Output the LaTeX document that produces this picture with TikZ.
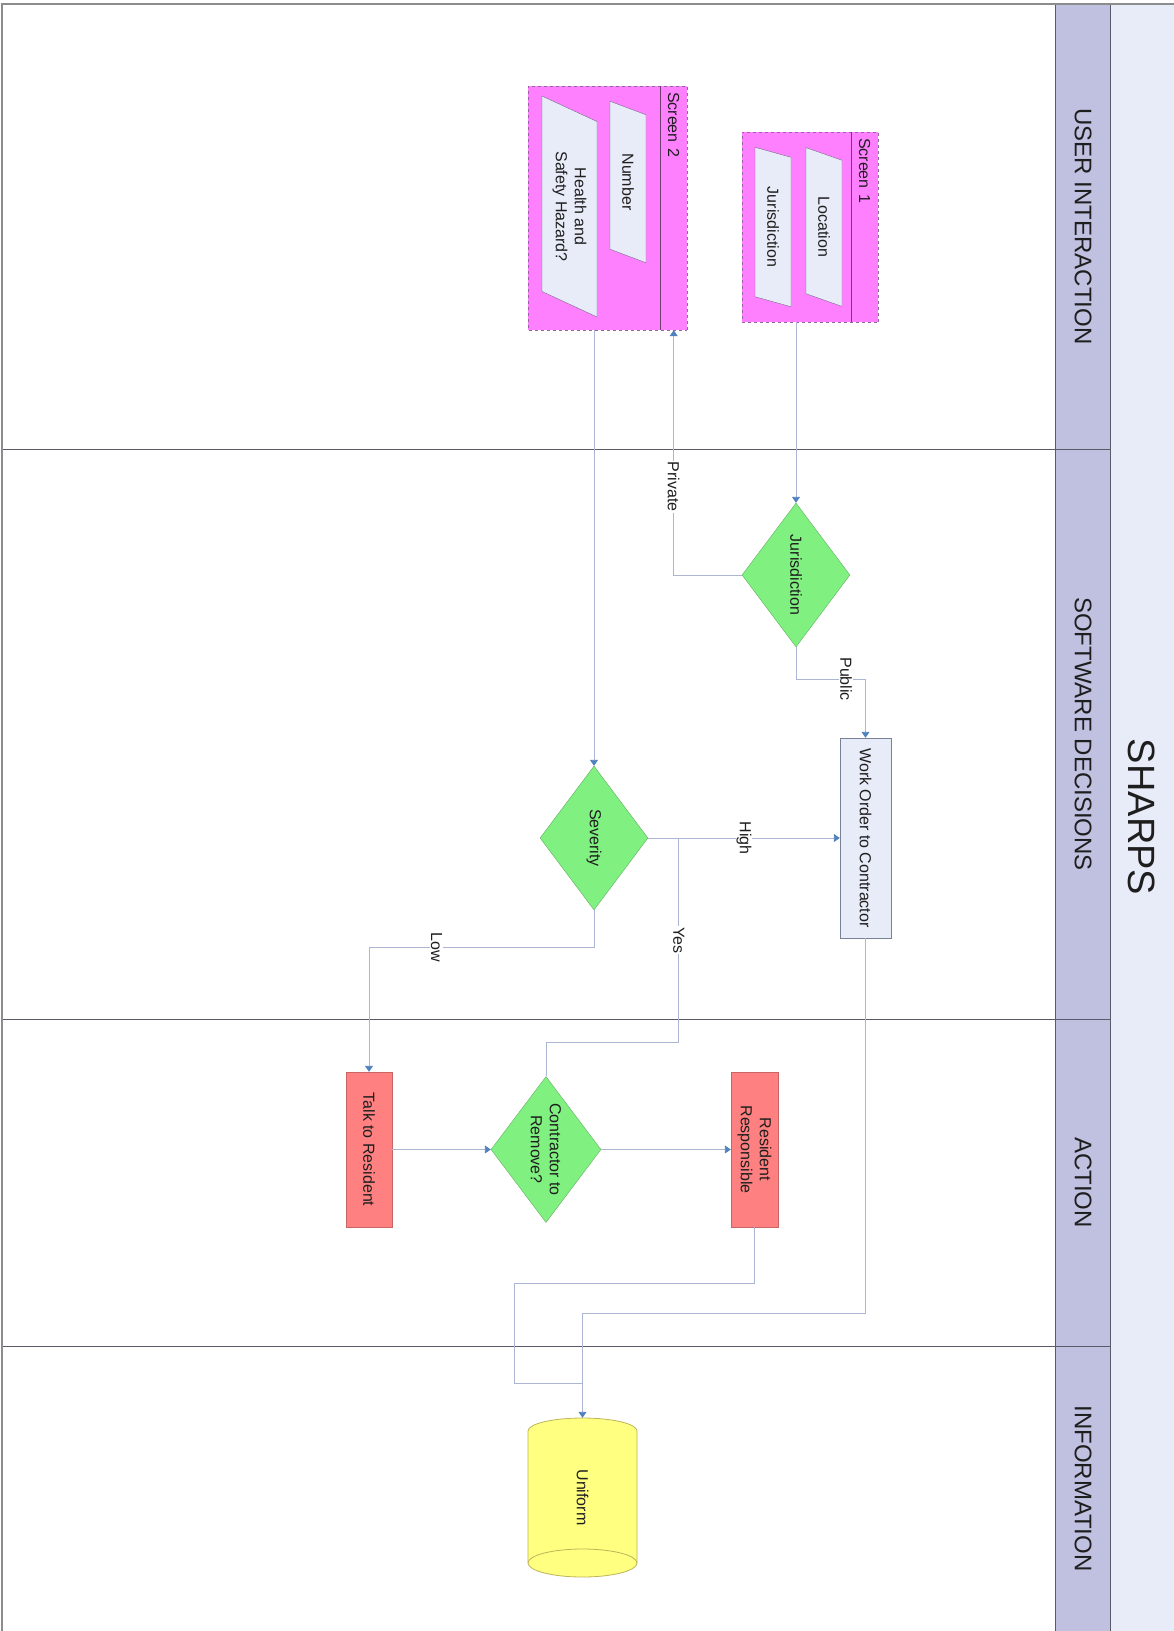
\documentclass[tikz,border=0pt]{standalone}
\usepackage{fontspec}
\setmainfont{Liberation Sans}
\usetikzlibrary{shapes.geometric, arrows.meta, positioning, calc}

\definecolor{lanefill}{RGB}{192,192,224}
\definecolor{titlefill}{RGB}{232,236,248}
\definecolor{laneedge}{RGB}{90,90,105}
\definecolor{frameedge}{RGB}{140,140,140}
\definecolor{screenfill}{RGB}{255,128,255}
\definecolor{screenedge}{RGB}{150,100,160}
\definecolor{headedge}{RGB}{110,60,110}
\definecolor{inputfill}{RGB}{232,236,248}
\definecolor{inputedge}{RGB}{120,100,140}
\definecolor{decisionfill}{RGB}{128,240,128}
\definecolor{decisionedge}{RGB}{100,175,100}
\definecolor{processedge}{RGB}{120,130,150}
\definecolor{actionfill}{RGB}{255,128,128}
\definecolor{actionedge}{RGB}{200,100,100}
\definecolor{storefill}{RGB}{255,255,128}
\definecolor{storeedge}{RGB}{190,180,90}
\definecolor{flowline}{RGB}{172,182,212}
\definecolor{arrowblue}{RGB}{79,129,189}
\definecolor{inktext}{RGB}{30,30,30}

\begin{document}
\begin{tikzpicture}[
    x=1pt, y=1pt, rotate=-90, transform shape,
    every node/.style={font=\fontsize{16}{19}\selectfont, text=inktext},
    lanelabel/.style={font=\fontsize{24}{28}\selectfont},
    lanerule/.style={draw=laneedge, line width=1pt},
    screen/.style={draw=screenedge, dashed, fill=screenfill, line width=0.8pt},
    screenhead/.style={inner xsep=6pt, inner ysep=0pt, minimum height=27pt, align=left, anchor=north},
    headrule/.style={draw=headedge, line width=0.8pt},
    inputbox/.style={trapezium, trapezium left angle=64, trapezium right angle=116, trapezium stretches=true, draw=inputedge, fill=inputfill, inner sep=0pt, align=center},
    decision/.style={diamond, aspect=1.33, draw=decisionedge, fill=decisionfill, inner sep=0pt, align=center},
    process/.style={rectangle, draw=processedge, fill=inputfill, inner sep=0pt, align=center},
    action/.style={rectangle, draw=actionedge, fill=actionfill, inner sep=0pt, align=center},
    store/.style={draw=storeedge, fill=storefill, line width=0.8pt},
    line/.style={draw=flowline, line width=0.9pt},
    flow/.style={line, -{Triangle[length=6pt, width=8pt, color=arrowblue]}},
    tag/.style={fill=white, inner sep=1pt}
]
    \useasboundingbox (0,0) rectangle (1631,1174);

    % swimlanes
    \fill[titlefill] (4,1110) rectangle (1631,1174);
    \node[font=\fontsize{38}{44}\selectfont] (title) at (817,1142) {SHARPS};
    \foreach \xa/\xb/\lbl in {4/449/USER INTERACTION, 449/1019/SOFTWARE DECISIONS, 1019/1346/ACTION, 1346/1631/INFORMATION}{
        \draw[lanerule, fill=lanefill] (\xa,1055) rectangle (\xb,1110);
        \node[lanelabel] (lane\xa) at ({(\xa+\xb)/2},1083) {\lbl};
    }
    \foreach \xs in {449,1019,1346}
        \draw[lanerule] (\xs,2) -- (\xs,1055);
    \draw[frameedge, line width=1.5pt] (4,1174) -- (4,2) -- (1631,2);

    % screens
    \node[screen, minimum width=190, minimum height=136] (scrone) at (227,810) {};
    \node[screenhead, text width=178] (scronehead) at (scrone.north) {Screen 1};
    \draw[headrule] (scronehead.south west) -- (scronehead.south east);
    \node[inputbox, minimum width=160, minimum height=36] (loc) at (227,824) {Location};
    \node[inputbox, minimum width=160, minimum height=36] (jurin) at (227,773) {Jurisdiction};

    \node[screen, minimum width=244, minimum height=159] (scrtwo) at (208,607.5) {};
    \node[screenhead, text width=232] (scrtwohead) at (scrtwo.north) {Screen 2};
    \draw[headrule] (scrtwohead.south west) -- (scrtwohead.south east);
    \node[inputbox, minimum width=162, minimum height=36] (number) at (182,628) {Number};
    \node[inputbox, minimum width=221, minimum height=55] (hazard) at (206.5,569.5) {Health and\\Safety Hazard?};

    % decisions and actions
    \node[decision, minimum width=144, minimum height=108] (jur) at (575,796) {Jurisdiction};
    \node[process, minimum width=200, minimum height=51] (wo) at (838,865.5) {Work Order to Contractor};
    \node[decision, minimum width=144, minimum height=108] (sev) at (838,594) {Severity};
    \node[action, minimum width=155, minimum height=46] (talk) at (1149.5,369) {Talk to Resident};
    \node[decision, minimum width=146, minimum height=110] (con) at (1149.5,546) {Contractor to\\Remove?};
    \node[action, minimum width=155, minimum height=47] (res) at (1149.5,754.5) {Resident\\Responsible};

    % data store drum
    \filldraw[store] (1431,528) arc[start angle=-90, end angle=-270, x radius=13, y radius=54.5]
        -- (1563,637) arc[start angle=90, end angle=-90, x radius=14, y radius=54.5] -- cycle;
    \draw[store, fill=none] (1563,637) arc[start angle=90, end angle=270, x radius=14, y radius=54.5];
    \node[minimum width=159, minimum height=109, inner sep=0pt] (uni) at (1497.5,582.5) {Uniform};

    % connectors
    \draw[flow] (scrone.east |- jur.west) -- (jur.west);
    \draw[flow] (jur.south) |- node[tag, pos=0.68]{Private} (scrtwohead.east);
    \draw[flow] (jur.east) -- ++(32,0) |- node[tag, pos=0.36]{Public} (wo.west);
    \draw[flow] (scrtwo.east |- sev.west) -- (sev.west);
    \draw[flow] (sev.north) -- node[tag]{High} (wo.south);
    \coordinate (yesjoin) at ($(sev.north)!0.16!(wo.south)$);
    \draw[line] (con.west) -- ++(-34,0) |- node[tag, pos=0.75]{Yes} (yesjoin);
    \draw[flow] (sev.east) -- ++(37,0) |- node[tag, pos=0.35]{Low} (talk.west);
    \draw[flow] (talk.north) -- (con.south);
    \draw[flow] (con.north) -- (res.south);
    \draw[flow] (wo.east) -- ++(375,0) |- (uni.west);
    \draw[line] (res.east) -- ++(56,0) |- ($(uni.west)+(-34,-68.5)$) -- ($(uni.west)+(-34,0)$);
\end{tikzpicture}
\end{document}
